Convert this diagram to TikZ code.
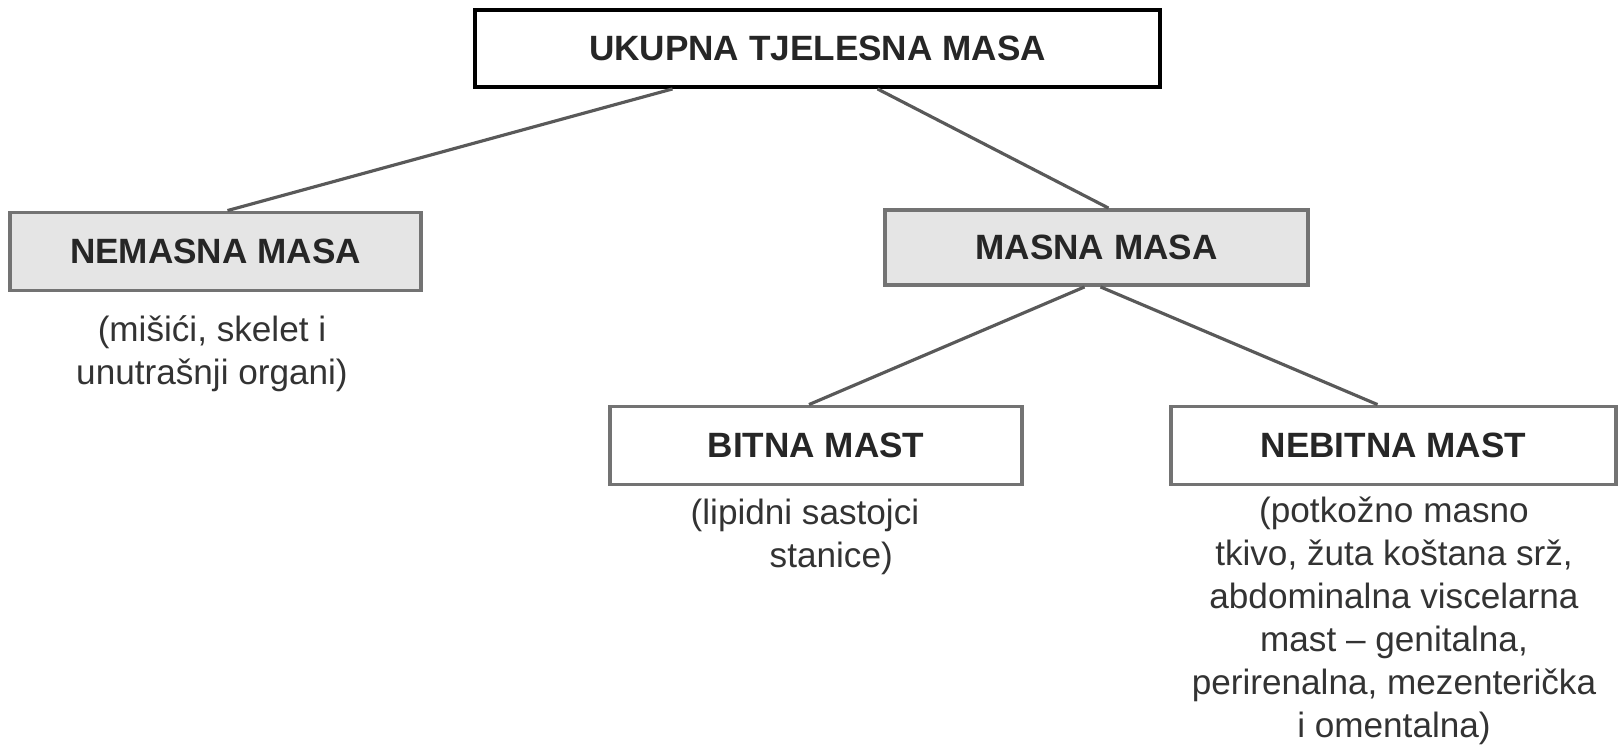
\documentclass[tikz,border=0pt]{standalone}
\usepackage{fontspec}
\setmainfont{Liberation Sans}
\begin{document}
\begin{tikzpicture}[
    box/.style={draw=black!55, line width=1.1pt, fill=white, inner sep=0pt, minimum height=0.78cm, font=\fontsize{10}{12}\selectfont\bfseries, text=black!85},
    greybox/.style={box, fill=black!10},
    note/.style={align=center, font=\fontsize{10}{12.2}\selectfont, text=black!80, inner sep=0pt},
    link/.style={draw=black!65, line width=0.9pt}
]
    \useasboundingbox (0,0) rectangle (16.19,7.44);

    % Boxes
    \node[box, draw=black, minimum width=6.85cm, minimum height=0.77cm] (total) at (8.175,6.955) {UKUPNA TJELESNA MASA};
    \node[greybox, minimum width=4.11cm] (lean) at (2.155,4.925) {NEMASNA MASA};
    \node[greybox, minimum width=4.23cm, minimum height=0.75cm] (fat) at (10.965,4.965) {MASNA MASA};
    \node[box, minimum width=4.12cm] (essential) at (8.16,2.985) {BITNA MAST};
    \node[box, minimum width=4.45cm] (storage) at (13.935,2.985) {NEBITNA MAST};

    % Links
    \draw[link] ([xshift=-1.45cm]total.south) -- ([xshift=0.12cm]lean.north);
    \draw[link] ([xshift=0.6cm]total.south) -- ([xshift=0.12cm]fat.north);
    \draw[link] ([xshift=-0.12cm]fat.south) -- ([xshift=-0.07cm]essential.north);
    \draw[link] ([xshift=0.04cm]fat.south) -- ([xshift=-0.16cm]storage.north);

    % Notes
    \node[note] (leannote) at (2.12,3.90) {(mišići, skelet i\\unutrašnji organi)};
    \node[note, align=left, anchor=west] (essnote) at (6.90,2.07) {(lipidni sastojci\\\hspace*{0.79cm}stanice)};
    \node[note] (stornote) at (13.94,1.23) {(potkožno masno\\tkivo, žuta koštana srž,\\abdominalna viscelarna\\mast -- genitalna,\\perirenalna, mezenterička\\i omentalna)};
\end{tikzpicture}
\end{document}
